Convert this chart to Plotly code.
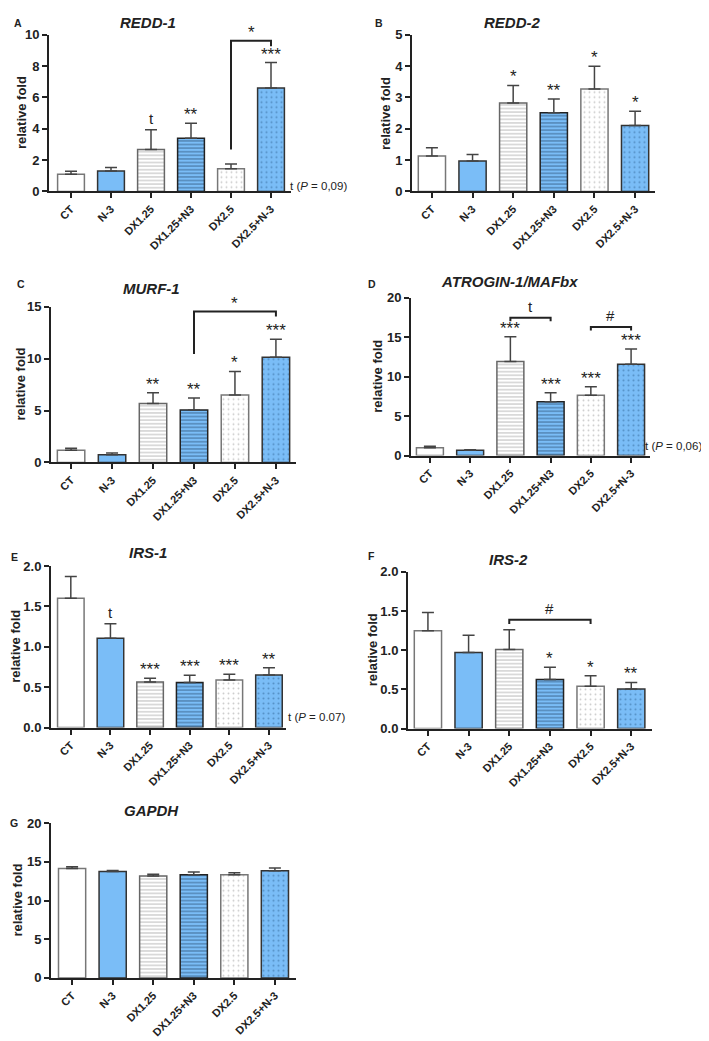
import plotly.graph_objects as go

# ---------------- data ----------------
categories = ["CT", "N-3", "DX1.25", "DX1.25+N3", "DX2.5", "DX2.5+N-3"]

redd1_mean = [1.10, 1.30, 2.67, 3.39, 1.45, 6.60]
redd1_sem = [0.19, 0.23, 1.26, 0.96, 0.30, 1.62]
redd1_sig = ["", "", "t", "**", "", "***"]

redd2_mean = [1.13, 0.97, 2.82, 2.51, 3.27, 2.10]
redd2_sem = [0.26, 0.21, 0.56, 0.44, 0.72, 0.46]
redd2_sig = ["", "", "*", "**", "*", "*"]

murf1_mean = [1.17, 0.73, 5.68, 5.05, 6.50, 10.13]
murf1_sem = [0.19, 0.18, 1.04, 1.16, 2.27, 1.73]
murf1_sig = ["", "", "**", "**", "*", "***"]

atrogin_mean = [1.00, 0.67, 11.92, 6.82, 7.66, 11.59]
atrogin_sem = [0.17, 0.08, 3.14, 1.13, 1.08, 1.92]
atrogin_sig = ["", "", "***", "***", "***", "***"]

irs1_mean = [1.60, 1.106, 0.565, 0.557, 0.59, 0.65]
irs1_sem = [0.27, 0.18, 0.045, 0.09, 0.07, 0.09]
irs1_sig = ["", "t", "***", "***", "***", "**"]

irs2_mean = [1.25, 0.97, 1.01, 0.626, 0.54, 0.504]
irs2_sem = [0.23, 0.22, 0.25, 0.155, 0.135, 0.085]
irs2_sig = ["", "", "", "*", "*", "**"]

gapdh_mean = [14.15, 13.77, 13.18, 13.35, 13.35, 13.86]
gapdh_sem = [0.21, 0.13, 0.21, 0.34, 0.25, 0.34]
gapdh_sig = ["", "", "", "", "", ""]

# brackets: (left idx, right idx, top, left-leg bottom, right-leg bottom, label)
redd1_brackets = [(4, 5, 9.62, 2.68, 9.27, "*")]
murf1_brackets = [(3, 5, 14.54, 10.44, 14.07, "*")]
atrogin_brackets = [(2, 3, 17.49, 17.03, 17.03, "t"), (4, 5, 16.3, 15.86, 15.86, "#")]
irs2_brackets = [(2, 4, 1.39, 1.336, 1.336, "#")]

# ---------------- layout config ----------------
W, H = 709, 1041
FONT = "Arial, Liberation Sans, Helvetica, sans-serif"
BLUE = "#7abdf7"

panels = [
    dict(title="REDD-1", letter="A", mean=redd1_mean, sem=redd1_sem, sig=redd1_sig, br=redd1_brackets,
         x0=41, x1=283, yt=20, yb=179, ymax=10, dtick=2, fmt="", xr=[-0.55, 5.5],
         tx=140, ty=8, lx=10, ly=8, ylx=13, note=("t (<i>P</i> = 0,09)", 281, 173)),
    dict(title="REDD-2", letter="B", mean=redd2_mean, sem=redd2_sem, sig=redd2_sig, br=[],
         x0=404, x1=647, yt=20, yb=179, ymax=5, dtick=1, fmt="", xr=[-0.49, 5.49],
         tx=504, ty=8, lx=371, ly=8, ylx=377, note=None),
    dict(title="MURF-1", letter="C", mean=murf1_mean, sem=murf1_sem, sig=murf1_sig, br=murf1_brackets,
         x0=43, x1=288, yt=296, yb=454, ymax=15, dtick=5, fmt="", xr=[-0.49, 5.49],
         tx=143, ty=278, lx=13, ly=273, ylx=13, note=None),
    dict(title="ATROGIN-1/MAFbx", letter="D", mean=atrogin_mean, sem=atrogin_sem, sig=atrogin_sig, br=atrogin_brackets,
         x0=403, x1=642, yt=287, yb=447, ymax=20, dtick=5, fmt="", xr=[-0.47, 5.47],
         tx=501, ty=270, lx=364, ly=273, ylx=370, note=("t (<i>P</i> = 0,06)", 636, 437)),
    dict(title="IRS-1", letter="E", mean=irs1_mean, sem=irs1_sem, sig=irs1_sig, br=[],
         x0=43, x1=278, yt=559, yb=723, ymax=2, dtick=0.5, fmt=".1f", xr=[-0.5, 5.43],
         tx=140, ty=545, lx=6, ly=550, ylx=8, note=("t (<i>P</i> = 0.07)", 279, 712)),
    dict(title="IRS-2", letter="F", mean=irs2_mean, sem=irs2_sem, sig=irs2_sig, br=irs2_brackets,
         x0=400, x1=644, yt=565, yb=724, ymax=2, dtick=0.5, fmt=".1f", xr=[-0.49, 5.51],
         tx=500, ty=552, lx=363, ly=549, ylx=364, note=None),
    dict(title="GAPDH", letter="G", mean=gapdh_mean, sem=gapdh_sem, sig=gapdh_sig, br=[],
         x0=43, x1=288, yt=820, yb=977, ymax=20, dtick=5, fmt="", xr=[-0.52, 5.52],
         tx=143, ty=807, lx=6, ly=820, ylx=10, note=None),
]

# per-category bar style
fill_colors = ["white", BLUE, "white", BLUE, "white", BLUE]
pat_shapes = ["", "", "-", "-", ".", "."]
pat_fg = ["#888888", "#888888", "#8a8a8a", "#1f3f60", "#9a9a9a", "#2f6595"]
pat_size = [4, 4, 3.6, 3.6, 5, 5]
pat_solid = [0.3, 0.3, 0.32, 0.36, 0.12, 0.14]
line_colors = ["#777777", "#333333", "#666666", "#222222", "#777777", "#333333"]

fig = go.Figure()
annotations = []
shapes = []


def px(x):
    return x / W


def py(y):
    return 1 - y / H


for i, p in enumerate(panels, start=1):
    xa = "x" if i == 1 else f"x{i}"
    ya = "y" if i == 1 else f"y{i}"
    xs = list(range(len(categories)))
    for j in xs:
        marker = dict(color=fill_colors[j], line=dict(color=line_colors[j], width=1.5))
        if pat_shapes[j]:
            marker["pattern"] = dict(shape=pat_shapes[j], fgcolor=pat_fg[j], bgcolor=fill_colors[j],
                                     size=pat_size[j], solidity=pat_solid[j], fillmode="overlay")
        fig.add_trace(go.Bar(
            x=[j], y=[p["mean"][j]], xaxis=xa, yaxis=ya, width=0.67,
            marker=marker,
            error_y=dict(type="data", array=[p["sem"][j]], arrayminus=[0], symmetric=False,
                         color="#444444", thickness=1.5, width=6),
            showlegend=False, hoverinfo="skip",
        ))
    axkey_x = "xaxis" if i == 1 else f"xaxis{i}"
    axkey_y = "yaxis" if i == 1 else f"yaxis{i}"
    fig.layout[axkey_x] = dict(
        domain=[px(p["x0"]), px(p["x1"])], anchor=ya, range=p["xr"],
        tickvals=xs, ticktext=categories, tickangle=-45,
        tickfont=dict(family=FONT, size=11, color="#222", weight="bold"),
        showline=True, linecolor="#222", linewidth=2, ticks="outside", ticklen=5,
        tickwidth=1.5, tickcolor="#222", showgrid=False, zeroline=False, fixedrange=True)
    tv = []
    v = 0.0
    while v <= p["ymax"] + 1e-9:
        tv.append(round(v, 3))
        v += p["dtick"]
    fig.layout[axkey_y] = dict(
        domain=[py(p["yb"]), py(p["yt"])], anchor=xa, range=[0, p["ymax"]],
        tickvals=tv, tickformat=p["fmt"] if p["fmt"] else None,
        tickfont=dict(family=FONT, size=13, color="#222", weight="bold"),
        showline=True, linecolor="#222", linewidth=2, ticks="outside", ticklen=5,
        tickwidth=1.5, tickcolor="#222", showgrid=False, zeroline=False, fixedrange=True)

    # title
    annotations.append(dict(text=f"<b><i>{p['title']}</i></b>", x=px(p["tx"]), y=py(p["ty"]),
                            xref="paper", yref="paper", showarrow=False, xanchor="center", yanchor="middle",
                            font=dict(family=FONT, size=15, color="#222")))
    # panel letter
    annotations.append(dict(text=f"<b>{p['letter']}</b>", x=px(p["lx"]), y=py(p["ly"]),
                            xref="paper", yref="paper", showarrow=False, xanchor="center", yanchor="middle",
                            font=dict(family=FONT, size=10.5, color="#222")))
    # y title
    annotations.append(dict(text="<b>relative fold</b>", x=px(p["ylx"]), y=py((p["yt"] + p["yb"]) / 2),
                            xref="paper", yref="paper", showarrow=False, textangle=-90,
                            xanchor="center", yanchor="middle",
                            font=dict(family=FONT, size=13, color="#222")))
    if p["note"]:
        txt, nx, ny = p["note"]
        annotations.append(dict(text=txt, x=px(nx), y=py(ny), xref="paper", yref="paper",
                                showarrow=False, xanchor="left", yanchor="middle", borderpad=0,
                                font=dict(family=FONT, size=11.5, color="#222")))
    # significance marks
    for j, s in enumerate(p["sig"]):
        if not s:
            continue
        top = p["mean"][j] + p["sem"][j]
        is_star = s.startswith("*")
        annotations.append(dict(text=s, x=j, y=top, xref=xa, yref=ya, showarrow=False,
                                xanchor="center", yanchor="bottom", yshift=-3 if is_star else 1,
                                font=dict(family=FONT, size=17 if is_star else 15, color="#222")))
    # brackets
    for (a, b, ytop, ylb, yrb, lab) in p["br"]:
        shapes.append(dict(type="path", xref=xa, yref=ya,
                           path=f"M {a},{ylb} L {a},{ytop} L {b},{ytop} L {b},{yrb}",
                           line=dict(color="#222", width=2)))
        is_star = lab.startswith("*")
        annotations.append(dict(text=lab, x=(a + b) / 2, y=ytop, xref=xa, yref=ya, showarrow=False,
                                xanchor="center", yanchor="bottom", yshift=-3 if is_star else 1,
                                font=dict(family=FONT, size=17 if is_star else 15, color="#222")))

fig.update_layout(
    width=W, height=H, margin=dict(l=0, r=0, t=0, b=0),
    paper_bgcolor="white", plot_bgcolor="white",
    annotations=annotations, shapes=shapes, barmode="overlay",
    font=dict(family=FONT, color="#222"),
)

fig.write_html("out.html")
